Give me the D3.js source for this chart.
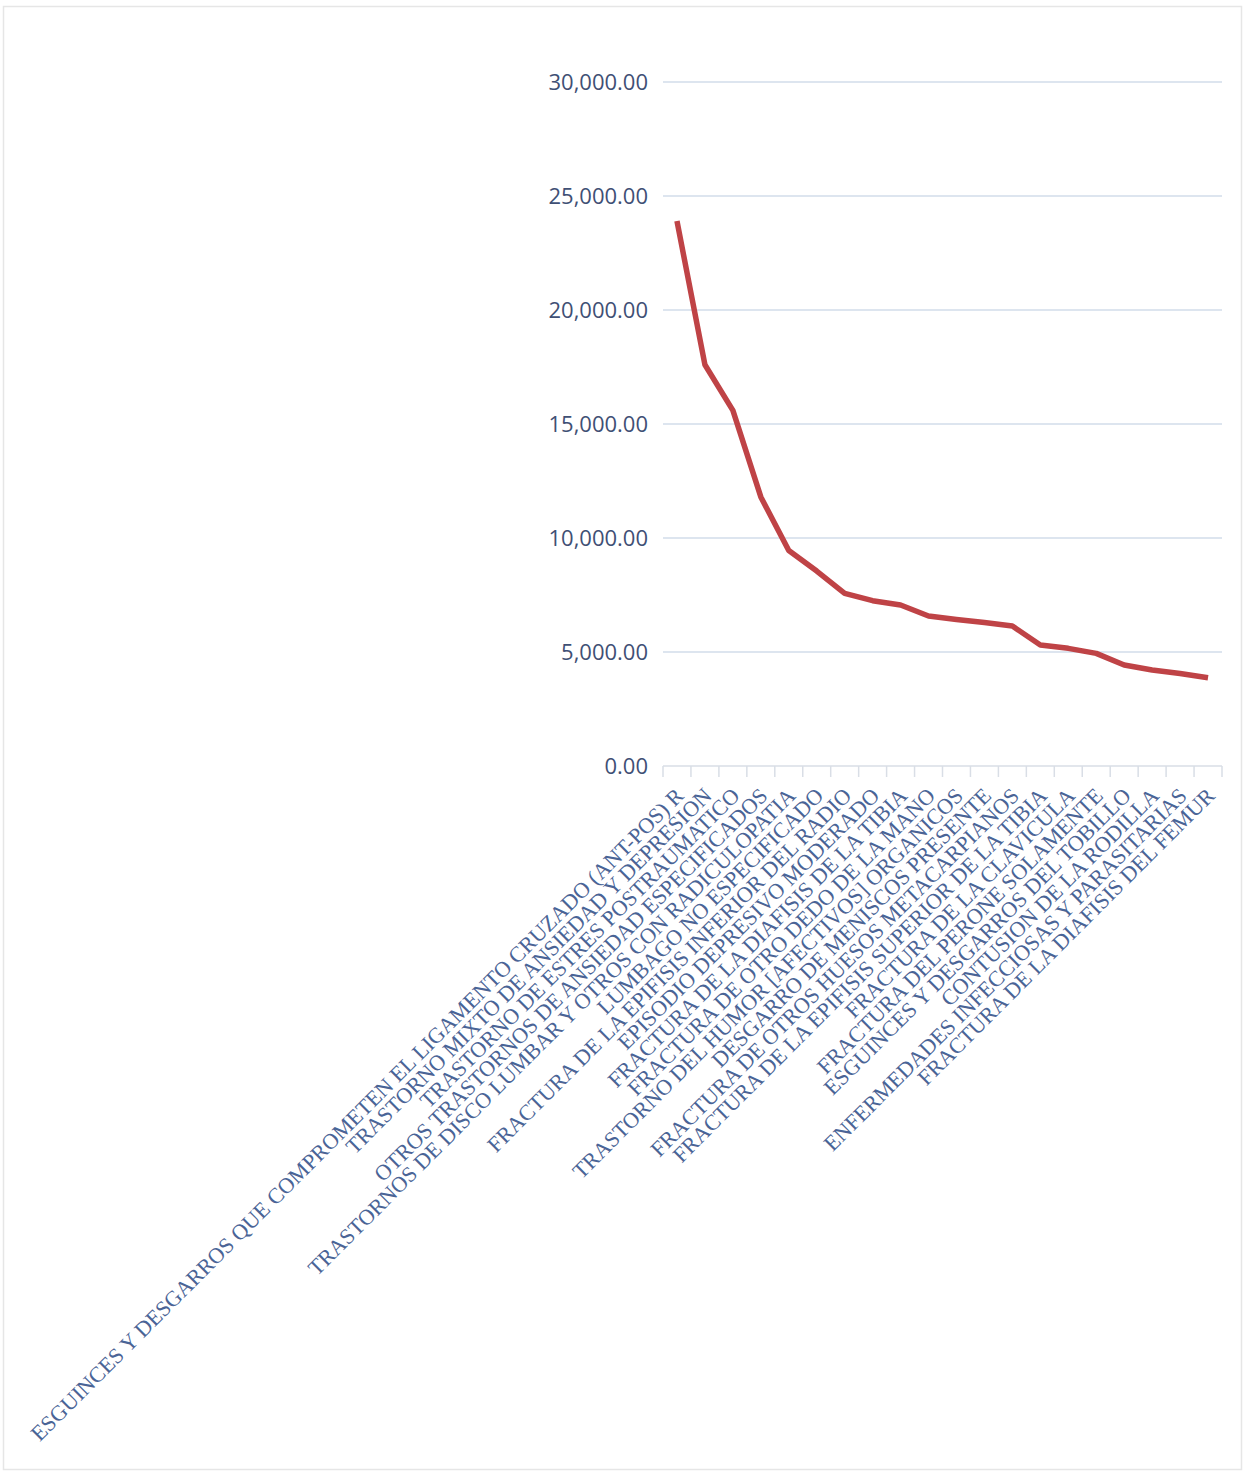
<!DOCTYPE html>
<html>
<head>
<meta charset="utf-8">
<script src="https://cdn.jsdelivr.net/npm/d3@7"></script>
<style>
  html, body { margin: 0; padding: 0; background: #ffffff; }
  svg { display: block; }
</style>
</head>
<body>
<svg id="chart" width="1247" height="1473"></svg>
<script>
const categories = [
  "ESGUINCES Y DESGARROS QUE COMPROMETEN EL LIGAMENTO CRUZADO (ANT-POS) R",
  "TRASTORNO MIXTO DE ANSIEDAD Y DEPRESION",
  "TRASTORNO DE ESTRES POSTRAUMATICO",
  "OTROS TRASTORNOS DE ANSIEDAD ESPECIFICADOS",
  "TRASTORNOS DE DISCO LUMBAR Y OTROS CON RADICULOPATIA",
  "LUMBAGO NO ESPECIFICADO",
  "FRACTURA DE LA EPIFISIS INFERIOR DEL RADIO",
  "EPISODIO DEPRESIVO MODERADO",
  "FRACTURA DE LA DIAFISIS DE LA TIBIA",
  "FRACTURA DE OTRO DEDO DE LA MANO",
  "TRASTORNO DEL HUMOR [AFECTIVOS] ORGANICOS",
  "DESGARRO DE MENISCOS PRESENTE",
  "FRACTURA DE OTROS HUESOS METACARPIANOS",
  "FRACTURA DE LA EPIFISIS SUPERIOR DE LA TIBIA",
  "FRACTURA DE LA CLAVICULA",
  "FRACTURA DEL PERONE SOLAMENTE",
  "ESGUINCES Y DESGARROS DEL TOBILLO",
  "CONTUSION DE LA RODILLA",
  "ENFERMEDADES INFECCIOSAS Y PARASITARIAS",
  "FRACTURA DE LA DIAFISIS DEL FEMUR"
];
const values = [23900, 17600, 15600, 11800, 9450, 8550, 7570, 7250, 7060, 6580,
                6430, 6290, 6140, 5310, 5160, 4940, 4430, 4210, 4060, 3870];
const yTicks = [0, 5000, 10000, 15000, 20000, 25000, 30000];

const svg = d3.select("#chart");

// outer frame
svg.append("rect")
  .attr("x", 3.5).attr("y", 6.5).attr("width", 1238).attr("height", 1463)
  .attr("fill", "#ffffff").attr("stroke", "#e6e6e6").attr("stroke-width", 1.5);

const plotLeft = 663, plotRight = 1222, plotTop = 82, plotBottom = 766;

const x = d3.scaleBand().domain(categories).range([plotLeft, plotRight]).padding(0);
const y = d3.scaleLinear().domain([0, 30000]).range([plotBottom, plotTop]);

// gridlines
svg.append("g").selectAll("line")
  .data(yTicks.filter(d => d > 0))
  .join("line")
  .attr("x1", plotLeft).attr("x2", plotRight)
  .attr("y1", d => y(d)).attr("y2", d => y(d))
  .attr("stroke", "#dde5ef").attr("stroke-width", 2);

// y tick labels
const fmt = d3.format(",.2f");
svg.append("g").selectAll("text")
  .data(yTicks)
  .join("text")
  .attr("x", 648)
  .attr("y", d => y(d))
  .attr("dy", "0.36em")
  .attr("text-anchor", "end")
  .attr("font-family", "'Open Sans', sans-serif")
  .attr("font-size", 22)
  .attr("fill", "#3f5075")
  .text(d => fmt(d));

// x axis baseline and tick marks between categories
svg.append("line")
  .attr("x1", plotLeft).attr("x2", plotRight).attr("y1", plotBottom).attr("y2", plotBottom)
  .attr("stroke", "#d9dee6").attr("stroke-width", 1.5);
const bounds = categories.map(c => x(c)).concat([x(categories[categories.length - 1]) + x.bandwidth()]);
svg.append("g").selectAll("line")
  .data(bounds)
  .join("line")
  .attr("x1", d => d).attr("x2", d => d)
  .attr("y1", plotBottom).attr("y2", plotBottom + 11)
  .attr("stroke", "#d9dee6").attr("stroke-width", 1.5);

// x labels
svg.append("g").selectAll("text")
  .data(categories)
  .join("text")
  .attr("transform", d => `translate(${x(d) + x.bandwidth() / 2 + 8},${plotBottom + 31}) rotate(-45)`)
  .attr("text-anchor", "end")
  .attr("font-family", "'Liberation Serif', serif")
  .attr("font-size", 22)
  .attr("fill", "#4a6496")
  .text(d => d);

// line
const line = d3.line()
  .x((d, i) => x(categories[i]) + x.bandwidth() / 2)
  .y(d => y(d));
svg.append("path")
  .datum(values)
  .attr("d", line)
  .attr("fill", "none")
  .attr("stroke", "#bf4346")
  .attr("stroke-width", 5.5)
  .attr("stroke-linejoin", "round")
  .attr("stroke-linecap", "butt");
</script>
</body>
</html>
